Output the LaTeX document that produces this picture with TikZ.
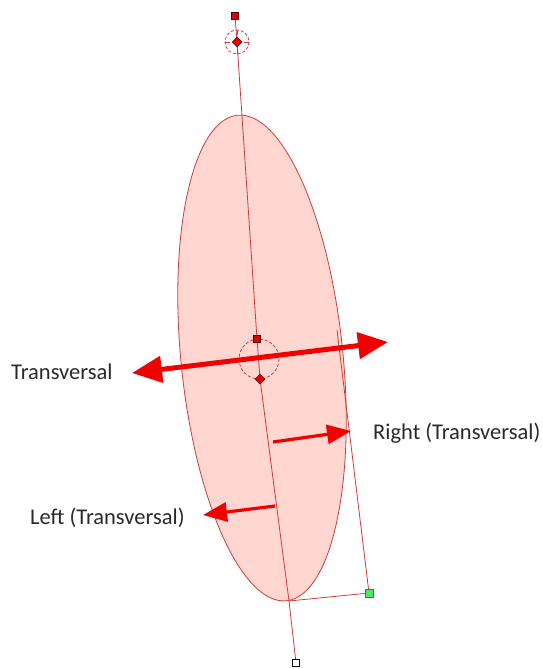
\documentclass[tikz,border=0pt]{standalone}
\usepackage{fontspec}
\setmainfont{Carlito}
\usetikzlibrary{arrows.meta,shapes.geometric,calc}
\definecolor{fillpink}{RGB}{255,214,208}
\definecolor{edgered}{RGB}{205,60,60}
\definecolor{arrred}{RGB}{240,0,0}
\definecolor{mkred}{RGB}{225,0,0}
\definecolor{txt}{RGB}{40,40,50}
\tikzset{
  guide/.style={draw=edgered, line width=0.8pt},
  sqmark/.style={rectangle, draw=black!70!red, fill=mkred, minimum size=7pt, inner sep=0pt, line width=0.6pt},
  dmmark/.style={diamond, draw=black!60!red, fill=mkred, minimum size=10pt, inner sep=0pt, line width=0.5pt},
  wmark/.style={rectangle, draw=black, fill=white, minimum size=6.5pt, inner sep=0pt, line width=0.7pt},
  gmark/.style={rectangle, draw=gray!70!blue, fill=green!75!teal!70!white, minimum size=8pt, inner sep=0pt, line width=0.7pt},
  bigarr/.style={draw=arrred, line width=5pt, -{Triangle[length=30pt,width=26pt]}},
  smallarr/.style={draw=arrred, line width=3.2pt, -{Triangle[length=24pt,width=19pt]}},
  lbl/.style={font=\fontsize{22.5}{26}\selectfont, text=txt, inner sep=0pt, anchor=base west},
}
\begin{document}
\begin{tikzpicture}[x=1pt,y=-1pt]
\useasboundingbox (0,0) rectangle (543,669);
% ellipse
\fill[fillpink] (262,358) ellipse[x radius=81, y radius=244, rotate=5.75];
\draw[guide] (262,358) ellipse[x radius=81, y radius=244, rotate=5.75];
% coordinates
\coordinate (topsq) at (235,16);
\coordinate (topc) at (237,42);
\coordinate (csq) at (257,339);
\coordinate (cdm) at (260,379);
\coordinate (cc) at (259,359);
\coordinate (bot) at (289,601);
\coordinate (botsq) at (296,663);
\coordinate (grn) at (369,593);
\coordinate (rtop) at (337,330);
% guide lines
\draw[guide] (topsq) -- (topc) -- (csq) -- (cdm) -- (bot) -- (botsq);
\draw[guide] (bot) -- (grn) -- (rtop);
% circles
\draw[guide, densely dashed] (topc) circle[radius=12];
\draw[guide] ($(topc)+(-12,0)$) -- ($(topc)+(-7,0)$);
\draw[guide] ($(topc)+(12,0)$) -- ($(topc)+(7,0)$);
\draw[guide] ($(topc)+(0,-12)$) -- ($(topc)+(0,-7)$);
\draw[guide] ($(topc)+(0,12)$) -- ($(topc)+(0,7)$);
\draw[guide, densely dashed] (cc) circle[radius=20];
% arrows
\coordinate (tl) at (132,373);
\coordinate (tr) at (388,342);
\coordinate (tm) at (260,357.5);
\draw[bigarr] (tm) -- (tl);
\draw[bigarr] (tm) -- (tr);
\coordinate (ra) at (273,442);
\coordinate (rb) at (351,431);
\draw[smallarr] (ra) -- (rb);
\coordinate (la) at (275,506);
\coordinate (lb) at (203,515);
\draw[smallarr] (la) -- (lb);
% markers
\node[sqmark] (n1) at (topsq) {};
\node[dmmark] (n2) at (topc) {};
\node[sqmark] (n3) at (csq) {};
\node[dmmark] (n4) at (cdm) {};
\node[wmark] (n5) at (botsq) {};
\node[gmark] (n6) at (grn) {};
% labels
\node[lbl] (t1) at (11,379) {Transversal};
\node[lbl] (t2) at (373,439) {Right (Transversal)};
\node[lbl] (t3) at (30,524) {Left (Transversal)};
\end{tikzpicture}
\end{document}
